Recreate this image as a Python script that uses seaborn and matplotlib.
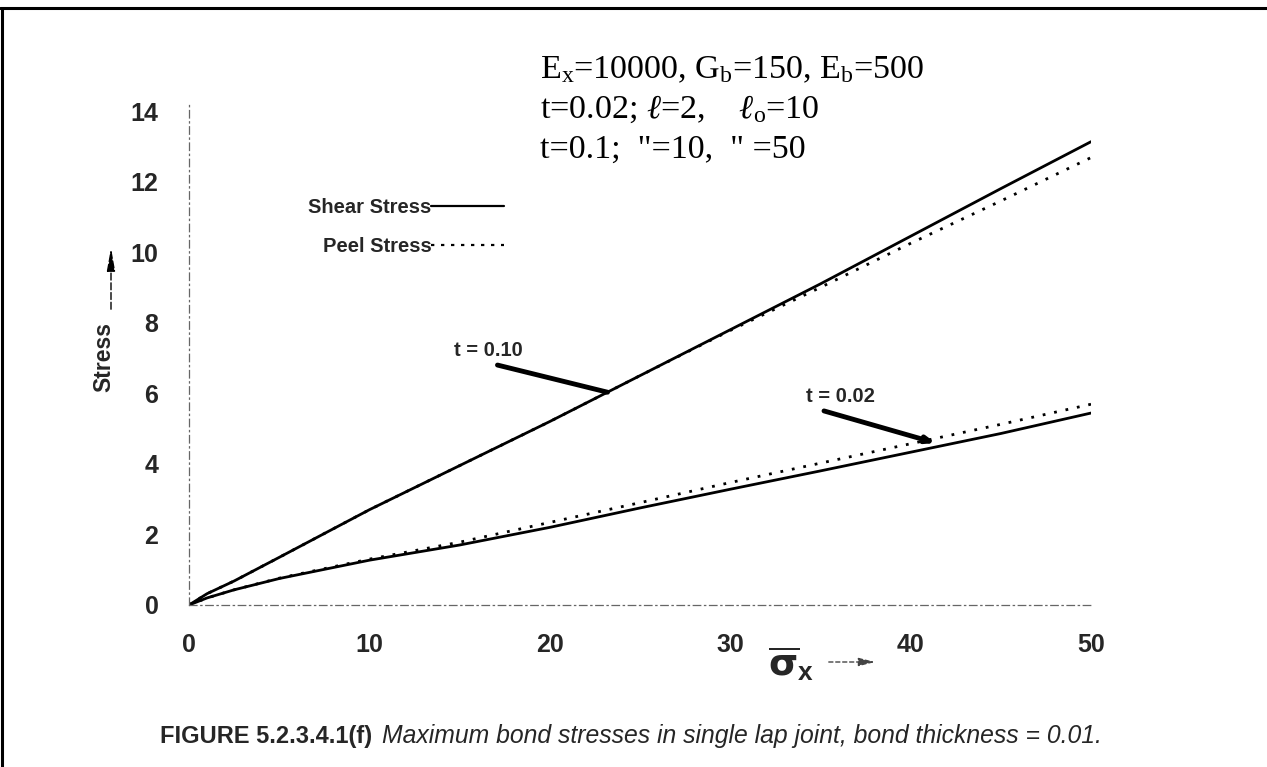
import numpy as np
import pandas as pd
import matplotlib
matplotlib.use("Agg")
import matplotlib.pyplot as plt
from matplotlib.lines import Line2D
from matplotlib.patches import FancyArrowPatch
import seaborn as sns

# Applied stress (sigma_x) sample points
sigma_x = [0, 1, 2.5, 5, 10, 15, 20, 25, 30, 35, 40, 45, 50]

# Maximum bond stresses, bond thickness t = 0.10
shear_t010 = [0, 0.32, 0.68, 1.35, 2.70, 3.95, 5.20, 6.50, 7.80, 9.10, 10.45, 11.80, 13.13]
peel_t010 = [0, 0.32, 0.68, 1.35, 2.70, 3.95, 5.20, 6.50, 7.78, 9.00, 10.25, 11.45, 12.68]

# Maximum bond stresses, bond thickness t = 0.02
shear_t002 = [0, 0.20, 0.43, 0.75, 1.27, 1.70, 2.20, 2.75, 3.28, 3.80, 4.33, 4.86, 5.44]
peel_t002 = [0, 0.20, 0.43, 0.76, 1.30, 1.78, 2.34, 2.90, 3.47, 4.02, 4.57, 5.12, 5.69]

x_ticks = [0, 10, 20, 30, 40, 50]
y_ticks = [0, 2, 4, 6, 8, 10, 12, 14]

stress_types = ["Shear Stress", "Peel Stress"]

frames = []
for t_label, shear, peel in [("0.10", shear_t010, peel_t010), ("0.02", shear_t002, peel_t002)]:
    for kind, vals in zip(stress_types, [shear, peel]):
        frames.append(pd.DataFrame({"sigma": sigma_x, "stress": vals,
                                    "kind": kind, "t": t_label}))
df = pd.concat(frames, ignore_index=True)
df["curve"] = df["t"] + " " + df["kind"]

sns.set_theme(style="white")
plt.rcParams["font.family"] = ["Liberation Sans", "DejaVu Sans"]
plt.rcParams["mathtext.fontset"] = "custom"
plt.rcParams["mathtext.rm"] = "Liberation Serif"
plt.rcParams["mathtext.it"] = "Liberation Serif:italic"
plt.rcParams["mathtext.bf"] = "Liberation Sans:bold"
plt.rcParams["mathtext.sf"] = "DejaVu Sans:bold"

W, H = 1267, 767
fig = plt.figure(figsize=(W / 100, H / 100), dpi=100)
ax = fig.add_axes([189 / W, 1 - 605 / H, (1091 - 189) / W, (605 - 111) / H])

sns.lineplot(data=df, x="sigma", y="stress", style="kind", units="curve",
             estimator=None, color="black", linewidth=2.0,
             dashes={"Shear Stress": "", "Peel Stress": (1, 3.2)},
             legend=False, ax=ax)

ax.set_xlim(0, 50)
ax.set_ylim(0, 14)
ax.set_xticks(x_ticks)
ax.set_yticks(y_ticks)
ax.set_xticklabels([str(v) for v in x_ticks], fontsize=18, fontweight="bold")
ax.set_yticklabels([str(v) for v in y_ticks], fontsize=18, fontweight="bold")
ax.tick_params(axis="x", length=0, pad=20)
ax.tick_params(axis="y", length=0, pad=22)
ax.set_xlabel("")
ax.set_ylabel("")
ax.grid(False)
for side in ["top", "right"]:
    ax.spines[side].set_visible(False)
for side in ["left", "bottom"]:
    ax.spines[side].set_color("#666666")
    ax.spines[side].set_linewidth(0.9)
    ax.spines[side].set_linestyle((0, (6, 3, 1, 3)))
ax.spines["left"].set_bounds(0, 14.2)

# Legend: label followed by its line sample
handles = [Line2D([], [], color="black", lw=1.6, linestyle="-"),
           Line2D([], [], color="black", lw=1.6, linestyle=(0, (1.5, 3)))]
leg = ax.legend(handles, stress_types, loc="upper left",
                bbox_to_anchor=((300 - 189) / 902, (605 - 190) / 494),
                frameon=False, markerfirst=False, handlelength=3.6,
                handletextpad=0.0, labelspacing=1.0, borderaxespad=0,
                prop={"weight": "bold", "size": 14.5})

# Curve identification labels
ax.text(16.6, 7.2, "t = 0.10", fontsize=14.5, fontweight="bold", ha="center", va="center")
ax.annotate("", xy=(23.2, 6.03), xytext=(17.1, 6.8),
            arrowprops=dict(arrowstyle="-", lw=3.5, color="black", shrinkA=0, shrinkB=0))
ax.text(36.1, 5.9, "t = 0.02", fontsize=14.5, fontweight="bold", ha="center", va="center")
ax.annotate("", xy=(41.4, 4.59), xytext=(35.2, 5.5),
            arrowprops=dict(arrowstyle="-|>,head_length=0.4,head_width=0.15", lw=3.5,
                            color="black", shrinkA=0, shrinkB=0))

# Parameter block
serif = dict(family="Liberation Serif", fontsize=24.5, color="black", ha="left", va="baseline")
fig.text(540 / W, 1 - 78 / H, r"E$_\mathrm{x}$=10000, G$_\mathrm{b}$=150, E$_\mathrm{b}$=500", **serif)
fig.text(540 / W, 1 - 118 / H, r"t=0.02; $\ell$=2,    $\ell_\mathrm{o}$=10", **serif)
fig.text(540 / W, 1 - 158 / H, "t=0.1;  \"=10,  \" =50", **serif)

# Axis labels with direction arrows
fig.text(104 / W, 1 - 357 / H, "Stress", rotation=90, fontsize=16.5,
         fontweight="bold", ha="center", va="center")
fig.add_artist(FancyArrowPatch(
    (111 / W, 1 - 312 / H), (111 / W, 1 - 245 / H),
    transform=fig.transFigure, arrowstyle="-|>,head_length=14,head_width=2.5",
    linestyle=(0, (5, 2)), lw=1.0, color="black"))
fig.text(768 / W, 1 - 664 / H, r"$\overline{\mathsf{\sigma}}_{\mathbf{x}}$", fontsize=27,
         ha="left", va="center")
fig.add_artist(FancyArrowPatch(
    (826 / W, 1 - 662 / H), (878 / W, 1 - 662 / H),
    transform=fig.transFigure, arrowstyle="-|>,head_length=10,head_width=2.5",
    linestyle=(0, (3, 2)), lw=1.0, color="#444444"))

# Caption
fig.text(160 / W, 1 - 736 / H, "FIGURE 5.2.3.4.1(f)", fontsize=17,
         fontweight="bold", ha="left", va="center")
fig.text(382 / W, 1 - 736 / H,
         "Maximum bond stresses in single lap joint, bond thickness = 0.01.",
         fontsize=17.8, style="italic", ha="left", va="center")

# Page frame lines
fig.add_artist(Line2D([0, 1], [1 - 8 / H, 1 - 8 / H], transform=fig.transFigure,
                      color="black", lw=2.2))
fig.add_artist(Line2D([2 / W, 2 / W], [0, 1 - 8 / H], transform=fig.transFigure,
                      color="black", lw=2.2))

fig.savefig("out.png", dpi=100)
